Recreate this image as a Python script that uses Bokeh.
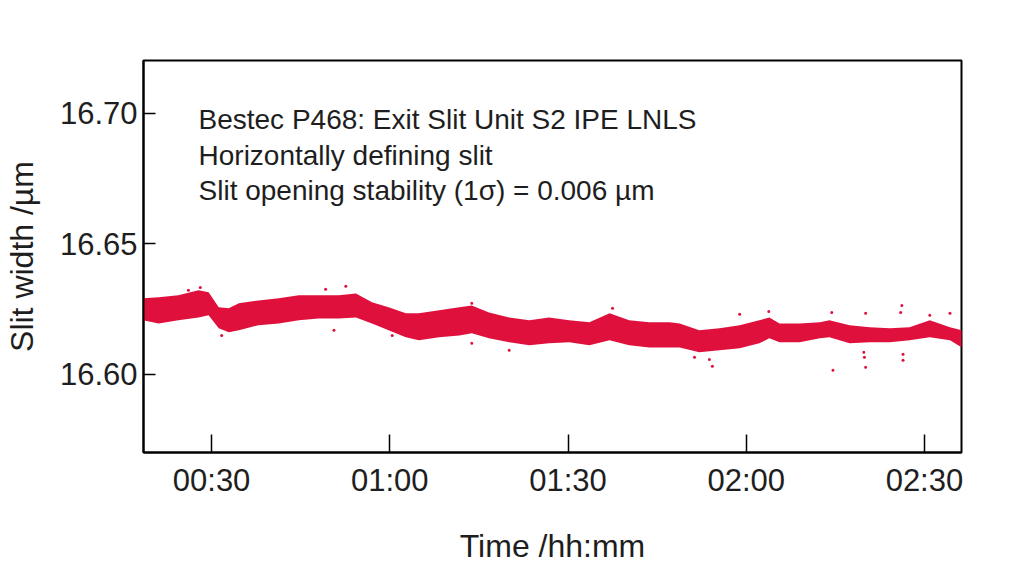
from bokeh.plotting import figure
from bokeh.models import Range1d, FixedTicker, Label
from bokeh.embed import file_html
from bokeh.resources import INLINE

# time in minutes since 00:00
time_min = [18.4, 21.1, 24.4, 27.8, 29.5, 31.2, 32.9, 34.6, 37.9, 41.3, 44.7, 48.0,
            51.4, 54.3, 57.0, 59.8, 62.7, 64.9, 68.3, 71.7, 73.8, 76.7, 80.1, 83.5,
            86.8, 90.2, 93.6, 97.0, 100.3, 103.7, 107.1, 108.8, 112.1, 115.5, 118.9,
            122.2, 123.9, 125.6, 129.0, 132.4, 134.0, 137.4, 140.8, 144.2, 147.5,
            150.9, 154.3, 156.3]
# upper / lower envelope of the measured slit width (µm)
width_upper = [16.6291, 16.6295, 16.6303, 16.6322, 16.6314, 16.6257, 16.6253, 16.6272,
               16.6283, 16.6291, 16.6303, 16.6303, 16.6303, 16.6310, 16.6276, 16.6257,
               16.6234, 16.6234, 16.6245, 16.6257, 16.6264, 16.6237, 16.6218, 16.6207,
               16.6218, 16.6207, 16.6199, 16.6234, 16.6207, 16.6199, 16.6199, 16.6195,
               16.6169, 16.6176, 16.6188, 16.6207, 16.6218, 16.6195, 16.6195, 16.6199,
               16.6207, 16.6188, 16.6180, 16.6176, 16.6180, 16.6207, 16.6180, 16.6169]
width_lower = [16.6207, 16.6195, 16.6207, 16.6218, 16.6226, 16.6176, 16.6161, 16.6169,
               16.6188, 16.6195, 16.6207, 16.6214, 16.6214, 16.6218, 16.6195, 16.6169,
               16.6142, 16.6130, 16.6142, 16.6149, 16.6157, 16.6138, 16.6123, 16.6111,
               16.6119, 16.6123, 16.6111, 16.6130, 16.6111, 16.6103, 16.6103, 16.6103,
               16.6084, 16.6092, 16.6100, 16.6119, 16.6138, 16.6123, 16.6123, 16.6138,
               16.6142, 16.6119, 16.6123, 16.6123, 16.6130, 16.6142, 16.6130, 16.6103]
# isolated points outside the dense band
outlier_time = [26.1, 28.1, 31.7, 49.2, 50.6, 52.6, 60.4, 73.8, 73.8, 80.1, 97.5, 111.3,
                113.8, 114.3, 118.9, 123.8, 134.4, 134.6, 139.8, 139.9, 140.1, 140.1,
                146.0, 146.2, 146.4, 146.4, 150.9, 154.3]
outlier_width = [16.6322, 16.6333, 16.6149, 16.6326, 16.6169, 16.6337, 16.6149, 16.6272,
                 16.6119, 16.6092, 16.6253, 16.6065, 16.6057, 16.6031, 16.6230, 16.6241,
                 16.6237, 16.6015, 16.6084, 16.6065, 16.6027, 16.6234, 16.6237, 16.6264,
                 16.6077, 16.6054, 16.6226, 16.6234]

x_ticks = [30, 60, 90, 120, 150]
x_tick_labels = ["00:30", "01:00", "01:30", "02:00", "02:30"]
y_ticks = [16.60, 16.65, 16.70]
y_tick_labels = ["16.60", "16.65", "16.70"]

annotation_lines = ["Bestec P468: Exit Slit Unit S2 IPE LNLS",
                    "Horizontally defining slit",
                    "Slit opening stability (1σ) = 0.006 µm"]

FONT = "Liberation Sans"
TXT = "#1e1e1e"
RED = "#e0103c"

p = figure(frame_width=818, frame_height=392, output_backend="svg", toolbar_location=None,
           x_range=Range1d(18.54, 156.24), y_range=Range1d(16.570, 16.7203),
           min_border_left=143, min_border_right=50, min_border_top=60,
           min_border_bottom=100)

p.varea(x=time_min, y1=width_lower, y2=width_upper, fill_color=RED, fill_alpha=1.0)
p.scatter(x=outlier_time, y=outlier_width, size=3, color=RED, line_width=0)

p.xgrid.visible = False
p.ygrid.visible = False
p.outline_line_color = "black"
p.outline_line_width = 2
p.outline_line_alpha = 1

xa = p.xaxis[0]
xa.ticker = FixedTicker(ticks=x_ticks)
xa.major_label_overrides = dict(zip(x_ticks, x_tick_labels))
xa.minor_tick_line_color = None
xa.major_tick_in = 18
xa.major_tick_out = 0
xa.major_tick_line_width = 1.5
xa.axis_line_width = 2
xa.major_label_standoff = 10
xa.major_label_text_font = FONT
xa.major_label_text_font_size = "31px"
xa.major_label_text_color = TXT
xa.axis_label = "Time /hh:mm"
xa.axis_label_text_font = FONT
xa.axis_label_text_font_size = "32px"
xa.axis_label_text_font_style = "normal"
xa.axis_label_text_color = TXT
xa.axis_label_standoff = 27

ya = p.yaxis[0]
ya.ticker = FixedTicker(ticks=y_ticks)
ya.major_label_overrides = dict(zip(y_ticks, y_tick_labels))
ya.minor_tick_line_color = None
ya.major_tick_in = 12
ya.major_tick_out = 0
ya.major_tick_line_width = 1.5
ya.axis_line_width = 2
ya.major_label_standoff = 6
ya.major_label_text_font = FONT
ya.major_label_text_font_size = "31px"
ya.major_label_text_color = TXT
ya.axis_label = "Slit width /µm"
ya.axis_label_text_font = FONT
ya.axis_label_text_font_size = "32px"
ya.axis_label_text_font_style = "normal"
ya.axis_label_text_color = TXT
ya.axis_label_standoff = 17

ann_x = 27.8
ann_y = [16.6975, 16.6839, 16.6705]
for txt, yy in zip(annotation_lines, ann_y):
    p.add_layout(Label(x=ann_x, y=yy, text=txt, text_font=FONT, text_font_size="28px",
                       text_color=TXT, text_baseline="middle", text_align="left"))

open("out.html", "w").write(file_html(p, INLINE))
